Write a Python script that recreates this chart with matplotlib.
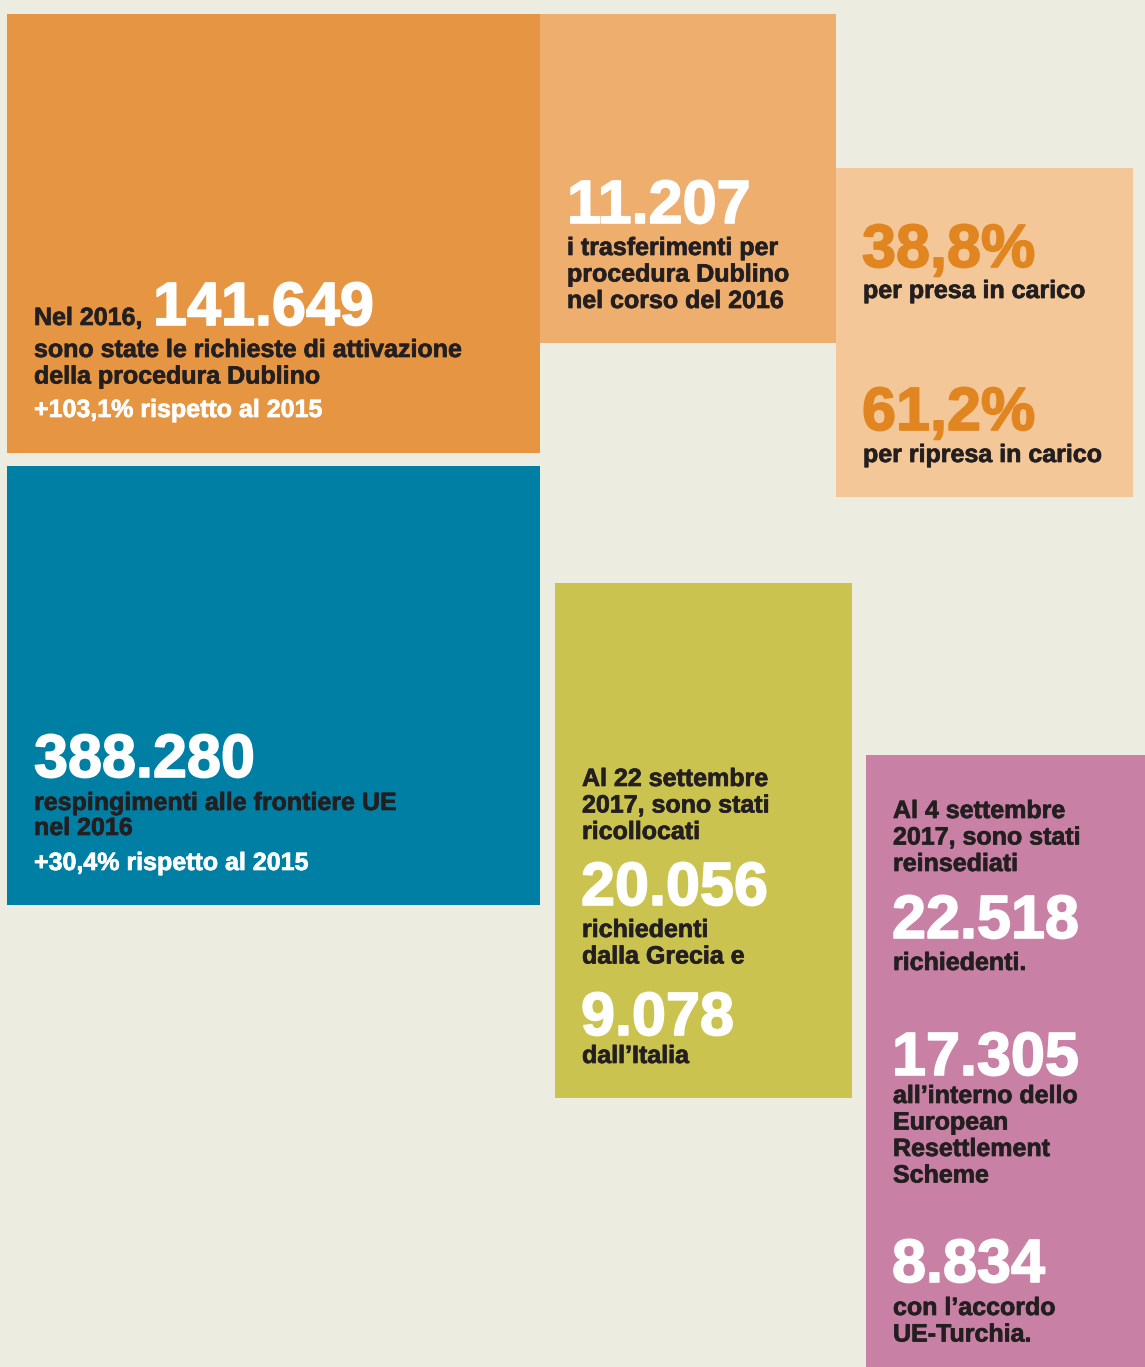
import matplotlib
matplotlib.use("Agg")
import matplotlib.pyplot as plt
import matplotlib.patheffects as pe
from matplotlib.patches import Rectangle

# figures shown on each panel
dublino_requests = "141.649"
dublino_transfers = "11.207"
share_taken = "38,8%"
share_retaken = "61,2%"
border_refusals = "388.280"
relocated_greece = "20.056"
relocated_italy = "9.078"
resettled_total = "22.518"
resettled_scheme = "17.305"
resettled_turkey = "8.834"

# captions
requests_lines = ["sono state le richieste di attivazione", "della procedura Dublino"]
requests_change = "+103,1% rispetto al 2015"
transfers_lines = ["i trasferimenti per", "procedura Dublino", "nel corso del 2016"]
taken_label = "per presa in carico"
retaken_label = "per ripresa in carico"
refusals_lines = ["respingimenti alle frontiere UE", "nel 2016"]
refusals_change = "+30,4% rispetto al 2015"
relocated_intro = ["Al 22 settembre", "2017, sono stati", "ricollocati"]
greece_lines = ["richiedenti", "dalla Grecia e"]
italy_lines = ["dall\u2019Italia"]
resettled_intro = ["Al 4 settembre", "2017, sono stati", "reinsediati"]
total_lines = ["richiedenti."]
scheme_lines = ["all\u2019interno dello", "European", "Resettlement", "Scheme"]
turkey_lines = ["con l\u2019accordo", "UE-Turchia."]

# colours
BG = "#EDECE1"
DARK = "#231F20"
WHITE = "#FFFFFF"
ORANGE_TEXT = "#E0851F"

W, H = 1145, 1367

plt.rcParams["font.family"] = ["Liberation Sans", "DejaVu Sans"]
fig = plt.figure(figsize=(W / 100, H / 100), dpi=100, facecolor=BG)
ax = fig.add_axes([0, 0, 1, 1])
ax.set_xlim(0, W)
ax.set_ylim(H, 0)
ax.axis("off")
ax.set_facecolor(BG)

# panels: x, y, width, height, colour
panels = [
    (7, 14, 533, 439, "#E69642"),
    (540, 14, 296, 329, "#EEAE6E"),
    (836, 168, 297, 329, "#F3C797"),
    (7, 466, 533, 439, "#007FA5"),
    (555, 583, 297, 515, "#CBC350"),
    (866, 755, 279, 612, "#C880A4"),
]
for x, y, w, h, c in panels:
    ax.add_patch(Rectangle((x, y), w, h, facecolor=c, edgecolor="none"))

BIG = 44
BODY = 18


def big(x, y, s, color=WHITE):
    ax.text(x, y, s, fontsize=BIG, fontweight="bold", color=color, va="baseline", ha="left",
            path_effects=[pe.withStroke(linewidth=1.2, foreground=color)])


def body(x, y, lines, step=26.5, color=DARK):
    for i, s in enumerate(lines):
        ax.text(x, y + i * step, s, fontsize=BODY, fontweight="bold", color=color,
                va="baseline", ha="left",
                path_effects=[pe.withStroke(linewidth=0.5, foreground=color)])


# orange panel
body(34, 325, ["Nel 2016,"])
big(153, 325, dublino_requests)
body(34, 357, requests_lines)
body(34, 417, [requests_change], color=WHITE)

# light orange panel
big(567, 223, dublino_transfers)
body(567, 255, transfers_lines)

# lighter orange panel
big(862, 267, share_taken, color=ORANGE_TEXT)
body(863, 298, [taken_label])
big(862, 430, share_retaken, color=ORANGE_TEXT)
body(863, 462, [retaken_label])

# blue panel
big(34, 777, border_refusals)
body(34, 810, refusals_lines, step=25)
body(34, 870, [refusals_change], color=WHITE)

# olive panel
body(582, 786, relocated_intro)
big(581, 905, relocated_greece)
body(582, 937, greece_lines)
big(581, 1035, relocated_italy)
body(582, 1063, italy_lines)

# pink panel
body(893, 818, resettled_intro)
big(892, 938, resettled_total)
body(893, 970, total_lines)
big(892, 1075, resettled_scheme)
body(893, 1103, scheme_lines)
big(892, 1282, resettled_turkey)
body(893, 1315, turkey_lines)

fig.savefig("out.png", dpi=100, facecolor=BG)
